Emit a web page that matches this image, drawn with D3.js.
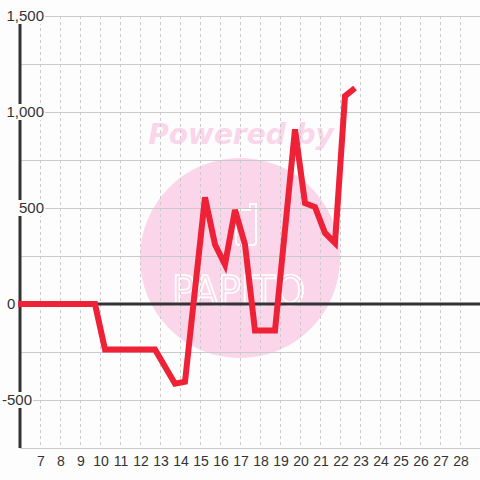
<!DOCTYPE html>
<html>
<head>
<meta charset="utf-8">
<script src="https://cdn.jsdelivr.net/npm/d3@7"></script>
<style>
  html, body { margin: 0; padding: 0; background: #fcfdfc; }
  svg { display: block; }
</style>
</head>
<body>
<div id="chart_container"></div>
<script>
// --- Data ---
const days = [5.75, 9.75, 10.25, 12.75, 13.75, 14.25, 15.25, 15.75, 16.25, 16.75, 17.25,
              17.75, 18.75, 19.75, 20.25, 20.75, 21.25, 21.75, 22.25, 22.75];
const values = [0, 0, -237, -237, -415, -405, 555, 310, 205, 490, 310,
                -138, -138, 910, 525, 505, 370, 318, 1083, 1125];
const xTickLabels = d3.range(7, 29);           // 7 .. 28
const yLabelTicks = [1500, 1000, 500, 0, -500];
const yGridTicks = d3.range(-750, 1501, 250);

// --- Layout ---
const width = 480, height = 480;
const bg = '#fcfdfc';
const lineColor = '#ee2137';
const gridColor = '#cacaca';
const axisColor = '#333333';

const svg = d3.select('#chart_container').append('svg')
    .attr('width', width)
    .attr('height', height);

svg.append('rect').attr('width', width).attr('height', height).attr('fill', bg);

const x = d3.scaleLinear().domain([6, 29]).range([20, 480]);
const y = d3.scaleLinear().domain([-750, 1500]).range([448, 16]);

// --- Watermark ---
const wm = svg.append('g').attr('class', 'watermark');
wm.append('circle')
    .attr('cx', 240).attr('cy', 258).attr('r', 100)
    .attr('fill', '#fbd5ea');
wm.append('text')
    .attr('x', 241).attr('y', 144)
    .attr('text-anchor', 'middle')
    .attr('font-family', 'DejaVu Sans')
    .attr('font-weight', 'bold')
    .attr('font-style', 'italic')
    .attr('font-size', 28)
    .attr('fill', '#fbd5ea')
    .text('Powered by');
wm.append('path')
    .attr('d', 'M236,210 h14 v-6 h6 v38 q0,3 -3,3 h-14 q-3,0 -3,-3 z')
    .attr('fill', 'none')
    .attr('stroke', '#ffffff')
    .attr('stroke-width', 2);
wm.append('text')
    .attr('x', 172).attr('y', 305)
    .attr('textLength', 133)
    .attr('lengthAdjust', 'spacingAndGlyphs')
    .attr('font-family', 'DejaVu Sans Condensed, DejaVu Sans')
    .attr('font-size', 41)
    .attr('fill', 'none')
    .attr('stroke', '#ffffff')
    .attr('stroke-width', 1.6)
    .text('PAPITO');

// --- Grid ---
const grid = svg.append('g').attr('class', 'grid');
grid.selectAll('line.h')
    .data(yGridTicks)
    .enter().append('line')
    .attr('class', 'h')
    .attr('x1', x(6)).attr('x2', width)
    .attr('y1', d => y(d) + 0.5).attr('y2', d => y(d) + 0.5)
    .attr('stroke', gridColor)
    .attr('stroke-width', 1);

grid.selectAll('line.v')
    .data(xTickLabels)
    .enter().append('line')
    .attr('class', 'v')
    .attr('x1', d => x(d) + 0.5).attr('x2', d => x(d) + 0.5)
    .attr('y1', y(1500)).attr('y2', y(-750))
    .attr('stroke', gridColor)
    .attr('stroke-width', 1)
    .attr('stroke-dasharray', '3,3');

// --- Axes lines ---
svg.append('line')
    .attr('x1', x(6)).attr('x2', width)
    .attr('y1', y(0)).attr('y2', y(0))
    .attr('stroke', axisColor)
    .attr('stroke-width', 3);

svg.append('line')
    .attr('x1', x(6)).attr('x2', x(6))
    .attr('y1', y(1500)).attr('y2', y(-750))
    .attr('stroke', axisColor)
    .attr('stroke-width', 3);

// --- Series line ---
svg.append('clipPath').attr('id', 'plotClip')
    .append('rect')
    .attr('x', 18).attr('y', 0)
    .attr('width', width - 18).attr('height', height);

const line = d3.line()
    .x((d, i) => x(days[i]))
    .y(d => y(d));

svg.append('path')
    .datum(values)
    .attr('clip-path', 'url(#plotClip)')
    .attr('d', line)
    .attr('fill', 'none')
    .attr('stroke', lineColor)
    .attr('stroke-width', 6)
    .attr('stroke-linejoin', 'miter')
    .attr('stroke-linecap', 'butt');

// --- Y labels (with background boxes) ---
const fmt = d3.format(',');
const yLab = svg.append('g').attr('class', 'ylabels')
    .attr('font-family', 'Liberation Sans, Arial, sans-serif')
    .attr('font-size', 15)
    .attr('fill', axisColor);

yLabelTicks.forEach(v => {
    const g = yLab.append('g');
    const t = g.append('text')
        .attr('y', y(v))
        .attr('dy', '0.35em')
        .text(fmt(v).replace('\u2212', '-'));
    if (v > 0) {
        t.attr('x', 44).attr('text-anchor', 'end');
    } else if (v === 0) {
        t.attr('x', 7).attr('text-anchor', 'start');
    } else {
        t.attr('x', 2).attr('text-anchor', 'start');
    }
    const bb = t.node().getBBox();
    g.insert('rect', 'text')
        .attr('x', bb.x - 1).attr('y', y(v) - 8)
        .attr('width', bb.width + 2).attr('height', 16)
        .attr('fill', bg);
});

// --- X labels ---
svg.append('g').attr('class', 'xlabels')
    .attr('font-family', 'Liberation Sans, Arial, sans-serif')
    .attr('font-size', 14)
    .attr('fill', axisColor)
    .selectAll('text')
    .data(xTickLabels)
    .enter().append('text')
    .attr('x', d => x(d) + 1)
    .attr('y', 461)
    .attr('dy', '0.35em')
    .attr('text-anchor', 'middle')
    .text(d => d);
</script>
</body>
</html>
